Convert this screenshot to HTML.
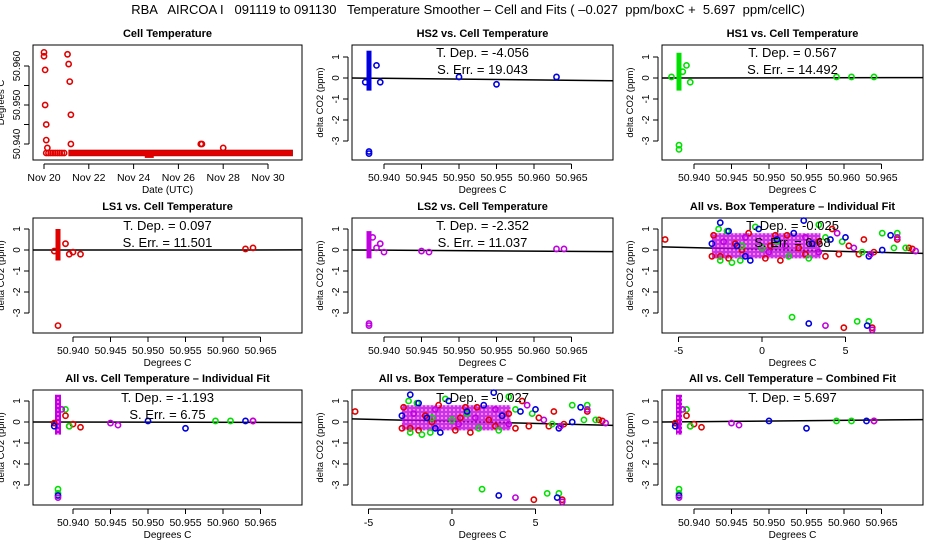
<!DOCTYPE html>
<html><head><meta charset="utf-8">
<style>
body{margin:0;background:#fff}
svg{display:block;font-family:"Liberation Sans",sans-serif}
</style></head>
<body>
<svg id="c" width="936" height="540" viewBox="0 0 936 540">
<defs>
<pattern id="hatch" width="4" height="4" patternUnits="userSpaceOnUse">
<rect width="4" height="4" fill="#c000e0"/>
<circle cx="2" cy="2" r="1" fill="#ff80ff"/>
</pattern>
</defs>
<text x="468" y="14" font-size="13" text-anchor="middle" xml:space="preserve">RBA   AIRCOA I   091119 to 091130   Temperature Smoother – Cell and Fits ( –0.027  ppm/boxC +  5.697  ppm/cellC)</text>
</svg>
<script>
// ---- data ----
const tempTimes = [20.0,20.0,20.05,20.05,20.1,20.1,20.15,21.05,21.1,21.15,21.2,21.2,27.0,27.05,28.0];
const tempValues = [50.9635,50.9625,50.959,50.950,50.945,50.941,50.939,50.963,50.9605,50.956,50.9475,50.940,50.940,50.940,50.939];
const baseTimes = [20.1,20.2,20.3,20.4,20.5,20.6,20.7,20.8,20.9];
const baseValue = 50.9377;
const dipStart = 24.5, dipEnd = 24.9, dipValue = 50.9372;
const panelTitles = ["Cell Temperature","HS2 vs. Cell Temperature","HS1 vs. Cell Temperature","LS1 vs. Cell Temperature","LS2 vs. Cell Temperature","All vs. Box Temperature – Individual Fit","All vs. Cell Temperature – Individual Fit","All vs. Box Temperature – Combined Fit","All vs. Cell Temperature – Combined Fit"];
const cellTicks = [50.940,50.945,50.950,50.955,50.960,50.965];
const tempTicks = [50.940,50.945,50.950,50.955,50.960];
const tempTickLabels = ["50.940","","50.950","","50.960"];
const boxTicks = [-5,0,5];
const deltaTicks = [1,0,-1,-2,-3];
const tDep = ["-4.056","0.567","0.097","-2.352","-0.025","-1.193","-0.027","5.697"];
const sErr = ["19.043","14.492","11.501","11.037","6.68","6.75"];
const hs2Pts = [[50.9375,-0.2],[50.939,0.6],[50.9395,-0.2],[50.950,0.05],[50.955,-0.3],[50.963,0.05],[50.938,-3.5],[50.938,-3.6]];
const hs1Pts = [[50.937,0.05],[50.9385,0.3],[50.939,0.6],[50.9395,-0.2],[50.959,0.05],[50.961,0.05],[50.964,0.05],[50.938,-3.2],[50.938,-3.4]];
const ls1Pts = [[50.9375,-0.05],[50.939,0.3],[50.9395,-0.2],[50.940,-0.1],[50.941,-0.2],[50.963,0.05],[50.964,0.1],[50.938,-3.6]];
const ls2Pts = [[50.9385,0.6],[50.939,0.1],[50.9395,0.3],[50.940,-0.1],[50.945,-0.05],[50.946,-0.1],[50.963,0.05],[50.964,0.05],[50.938,-3.5],[50.938,-3.6]];
const boxRed = [[-5.8,0.5],[-2.9,0.7],[-2.0,-0.4],[-0.8,0.8],[0.2,-0.4],[0.8,0.7],[1.1,-0.5],[1.5,0.7],[2.2,0.1],[3.0,0.3],[3.8,-0.3],[4.2,1.0],[4.6,-0.2],[5.2,0.2],[5.8,-0.2],[6.1,0.5],[6.7,-0.1],[8.1,0.5],[8.8,0.1],[9.0,0.05],[4.9,-3.7],[6.6,-3.7],[-2.5,-0.3],[-1.2,0.0],[0.5,0.2],[-3.0,-0.3],[-1.6,0.3],[2.6,-0.2],[3.4,0.4]];
const boxGreen = [[-2.6,1.0],[-2.5,-0.5],[-2.1,0.9],[-1.8,-0.6],[-1.2,0.2],[-0.4,1.1],[0.0,0.1],[1.6,-0.3],[2.8,-0.4],[3.4,1.2],[3.8,0.6],[4.8,0.4],[6.0,-0.1],[7.2,0.8],[7.9,0.1],[8.1,0.8],[8.6,0.1],[1.8,-3.2],[5.7,-3.4],[6.4,-3.4],[-1.3,-0.5],[0.9,0.4]];
const boxBlue = [[-2.5,1.3],[-2.0,0.9],[-1.5,0.2],[-0.7,-0.5],[-0.2,1.0],[0.9,0.5],[1.9,0.8],[2.5,1.4],[3.0,0.3],[4.1,0.5],[5.0,0.6],[6.4,-0.3],[7.2,0.0],[7.7,0.7],[2.8,-3.5],[6.3,-3.6],[-3.0,0.3],[-1.0,-0.3]];
const boxMag = [[-2.3,0.4],[-1.0,0.6],[0.4,-0.1],[1.4,0.2],[2.6,0.6],[3.4,-0.1],[4.5,0.8],[5.5,0.1],[6.5,-0.2],[8.1,0.6],[9.2,-0.05],[3.8,-3.6],[6.6,-3.8]];
const cellRed = [[50.9375,-0.05],[50.939,0.3],[50.9395,-0.2],[50.940,-0.1],[50.941,-0.25],[50.964,0.05]];
const cellGreen = [[50.939,0.6],[50.9395,-0.2],[50.959,0.05],[50.961,0.05],[50.938,-3.2],[50.938,-3.4]];
const cellBlue = [[50.9375,-0.2],[50.950,0.05],[50.955,-0.3],[50.963,0.05],[50.938,-3.5]];
const cellMag = [[50.9385,0.6],[50.945,-0.05],[50.946,-0.15],[50.964,0.05],[50.938,-3.6]];
// cluster: [x, low, high]
const hs2Cluster = [50.938,-0.6,1.3];
const hs1Cluster = [50.938,-0.6,1.2];
const ls1Cluster = [50.938,-0.5,1.0];
const ls2Cluster = [50.938,-0.4,0.9];
const fitBoxIntercept = 0.03, fitBoxSlope = -0.025;
const fitCellAnchor = 50.938;

// ---- layout ----
const svg = document.getElementById('c');
const NS = 'http://www.w3.org/2000/svg';
const colX = [[33,302],[352,613],[662,923]];
const rowY = [[45,160],[218,333],[390,505]];
const zeroY = [78,250,422];
const unit = 21;
function el(tag, attrs, parent){const e=document.createElementNS(NS,tag);for(const k in attrs)e.setAttribute(k,attrs[k]);(parent||svg).appendChild(e);return e;}
function txt(x,y,s,size,anchor,extra){const t=el('text',Object.assign({x:x,y:y,'font-size':size,'text-anchor':anchor||'middle'},extra||{}));t.textContent=s;return t;}
function cellScale(c){const x0=colX[c][0];return v=>x0+ (c===0?40:32) + (v-50.940)/0.005*37.5;}
function boxScale(c){const z=c===2?762:452;return v=>z+v*16.7;}
function dyScale(r){return v=>zeroY[r]-v*unit;}

function frame(c,r,title){
  const [x0,x1]=colX[c],[y0,y1]=rowY[r];
  const b=el('rect',{x:x0,y:y0,width:x1-x0,height:y1-y0,fill:'none',stroke:'#000','stroke-width':1});
  
  
  const t=txt((x0+x1)/2,y0-8,title,11,'middle',{'font-weight':'bold'});
  
  
}
function xAxis(c,r,ticks,sc,fmt,label){
  const y1=rowY[r][1]+4;
  const g=el('g',{});
  
  
  const xs=ticks.map(sc);
  el('line',{x1:Math.min(...xs),x2:Math.max(...xs),y1:y1,y2:y1,stroke:'#000'},g);
  ticks.forEach((v,i)=>{el('line',{x1:xs[i],x2:xs[i],y1:y1,y2:y1+5,stroke:'#000'},g);
    const t=txt(xs[i],y1+17,fmt(v,i),10.5);g.appendChild(t);});
  const l=txt((colX[c][0]+colX[c][1])/2,y1+29,label,10);
  
  
}
function yAxis(c,r,ticks,sc,fmt,label){
  const x0=colX[c][0]-4;
  const g=el('g',{});
  
  
  const ys=ticks.map(sc);
  el('line',{x1:x0,x2:x0,y1:Math.min(...ys),y2:Math.max(...ys),stroke:'#000'},g);
  ticks.forEach((v,i)=>{el('line',{x1:x0,x2:x0-5,y1:ys[i],y2:ys[i],stroke:'#000'},g);
    const t=txt(x0-9,ys[i],fmt(v,i),10,'middle',{transform:`rotate(-90 ${x0-9} ${ys[i]})`});g.appendChild(t);});
  const ly=(rowY[r][0]+rowY[r][1])/2, lx=x0-25;
  const l=txt(lx,ly,label,9.5,'middle',{transform:`rotate(-90 ${lx} ${ly})`});
  
  
}
function pts(list,sx,sy,color,name){
  list.forEach(p=>{const c=el('circle',{cx:sx(p[0]),cy:sy(p[1]),r:2.6,fill:'none',stroke:color,'stroke-width':1.6});
    
    });
}
function cluster(cl,sx,sy,color,w){
  const r=el('rect',{x:sx(cl[0])-w/2,y:sy(cl[2]),width:w,height:sy(cl[1])-sy(cl[2]),fill:color});
  
  
}
function stat(c,r,lines){
  const cx=(colX[c][0]+colX[c][1])/2;
  lines.forEach((s,i)=>{const t=txt(cx,rowY[r][0]+12+i*17,s,13,'middle',{'xml:space':'preserve'});
    
    });
}
const f3=v=>v.toFixed(3), f0=v=>String(v);

// Panel 1: cell temperature time series
frame(0,0,panelTitles[0]);
const tx=v=>44+(v-20)*22.4, ty=v=>144-(v-50.940)/0.01*39;
xAxis(0,0,[20,22,24,26,28,30],tx,v=>'Nov '+v,'Date (UTC)');
yAxis(0,0,tempTicks,ty,(v,i)=>tempTickLabels[i],'Degrees C');
pts(tempTimes.map((t,i)=>[t,tempValues[i]]),tx,ty,'#e00000','temperature-point');
pts(baseTimes.map(t=>[t,baseValue]),tx,ty,'#e00000','temperature-point');
const bl=el('rect',{x:tx(21.1),y:ty(baseValue)-3,width:tx(31.1)-tx(21.1),height:6,fill:'#e00000',stroke:'#900','stroke-width':0.5});


const dp=el('rect',{x:tx(dipStart),y:ty(dipValue)-3,width:tx(dipEnd)-tx(dipStart),height:6,fill:'#e00000'});



function cellPanel(c,r,title,list,color,cl,td,se){
  frame(c,r,title);
  const sx=cellScale(c), sy=dyScale(r);
  xAxis(c,r,cellTicks,sx,f3,'Degrees C');
  yAxis(c,r,deltaTicks,sy,f0,'delta CO2 (ppm)');
  const slope=parseFloat(td);
  const l=el('line',{x1:colX[c][0],x2:colX[c][1],y1:sy(0),y2:sy(slope*(((colX[c][1]-sx(fitCellAnchor))/37.5)*0.005)),stroke:'#000','stroke-width':1.5});
  
  
  if(cl) cluster(cl,sx,sy,color,5);
  pts(list,sx,sy,color,'data-point');
  stat(c,r,se?['T. Dep. =  '+td,'S. Err. =  '+se]:['T. Dep. =  '+td]);
}
cellPanel(1,0,panelTitles[1],hs2Pts,'#0000e0',hs2Cluster,tDep[0],sErr[0]);
cellPanel(2,0,panelTitles[2],hs1Pts,'#00e000',hs1Cluster,tDep[1],sErr[1]);
cellPanel(0,1,panelTitles[3],ls1Pts,'#e00000',ls1Cluster,tDep[2],sErr[2]);
cellPanel(1,1,panelTitles[4],ls2Pts,'#c000e0',ls2Cluster,tDep[3],sErr[3]);

function boxPanel(c,r,title,td,se){
  frame(c,r,title);
  const sx=boxScale(c), sy=dyScale(r);
  xAxis(c,r,boxTicks,sx,f0,'Degrees C');
  yAxis(c,r,deltaTicks,sy,f0,'delta CO2 (ppm)');
  const xl=(colX[c][0]-sx(0))/16.7, xr=(colX[c][1]-sx(0))/16.7;
  const l=el('line',{x1:colX[c][0],x2:colX[c][1],y1:sy(fitBoxIntercept+fitBoxSlope*xl*0.8),y2:sy(fitBoxIntercept+fitBoxSlope*xr*0.8),stroke:'#000','stroke-width':1.5});
  
  
  const blob=el('rect',{x:sx(-3),y:sy(0.8),width:sx(3.5)-sx(-3),height:sy(-0.4)-sy(0.8),fill:'url(#hatch)',opacity:0.8});
  
  
  pts(boxRed,sx,sy,'#e00000','data-point');
  pts(boxGreen,sx,sy,'#00e000','data-point');
  pts(boxBlue,sx,sy,'#0000e0','data-point');
  pts(boxMag,sx,sy,'#c000e0','data-point');
  stat(c,r,se?['T. Dep. =  '+td,'S. Err. =  '+se]:['T. Dep. =  '+td]);
}
boxPanel(2,1,panelTitles[5],tDep[4],sErr[4]);
boxPanel(1,2,panelTitles[7],tDep[6],null);

function allCell(c,r,title,td,se){
  frame(c,r,title);
  const sx=cellScale(c), sy=dyScale(r);
  xAxis(c,r,cellTicks,sx,f3,'Degrees C');
  yAxis(c,r,deltaTicks,sy,f0,'delta CO2 (ppm)');
  const slope=parseFloat(td)*0.02;
  const l=el('line',{x1:colX[c][0],x2:colX[c][1],y1:sy(0),y2:sy(slope),stroke:'#000','stroke-width':1.5});
  
  
  cluster([50.938,-0.6,1.3],sx,sy,'url(#hatch)',6);
  pts(cellRed,sx,sy,'#e00000','data-point');
  pts(cellGreen,sx,sy,'#00e000','data-point');
  pts(cellBlue,sx,sy,'#0000e0','data-point');
  pts(cellMag,sx,sy,'#c000e0','data-point');
  stat(c,r,se?['T. Dep. =  '+td,'S. Err. =  '+se]:['T. Dep. =  '+td]);
}
allCell(0,2,panelTitles[6],tDep[5],sErr[5]);
allCell(2,2,panelTitles[8],tDep[7],null);
</script>
</body></html>
